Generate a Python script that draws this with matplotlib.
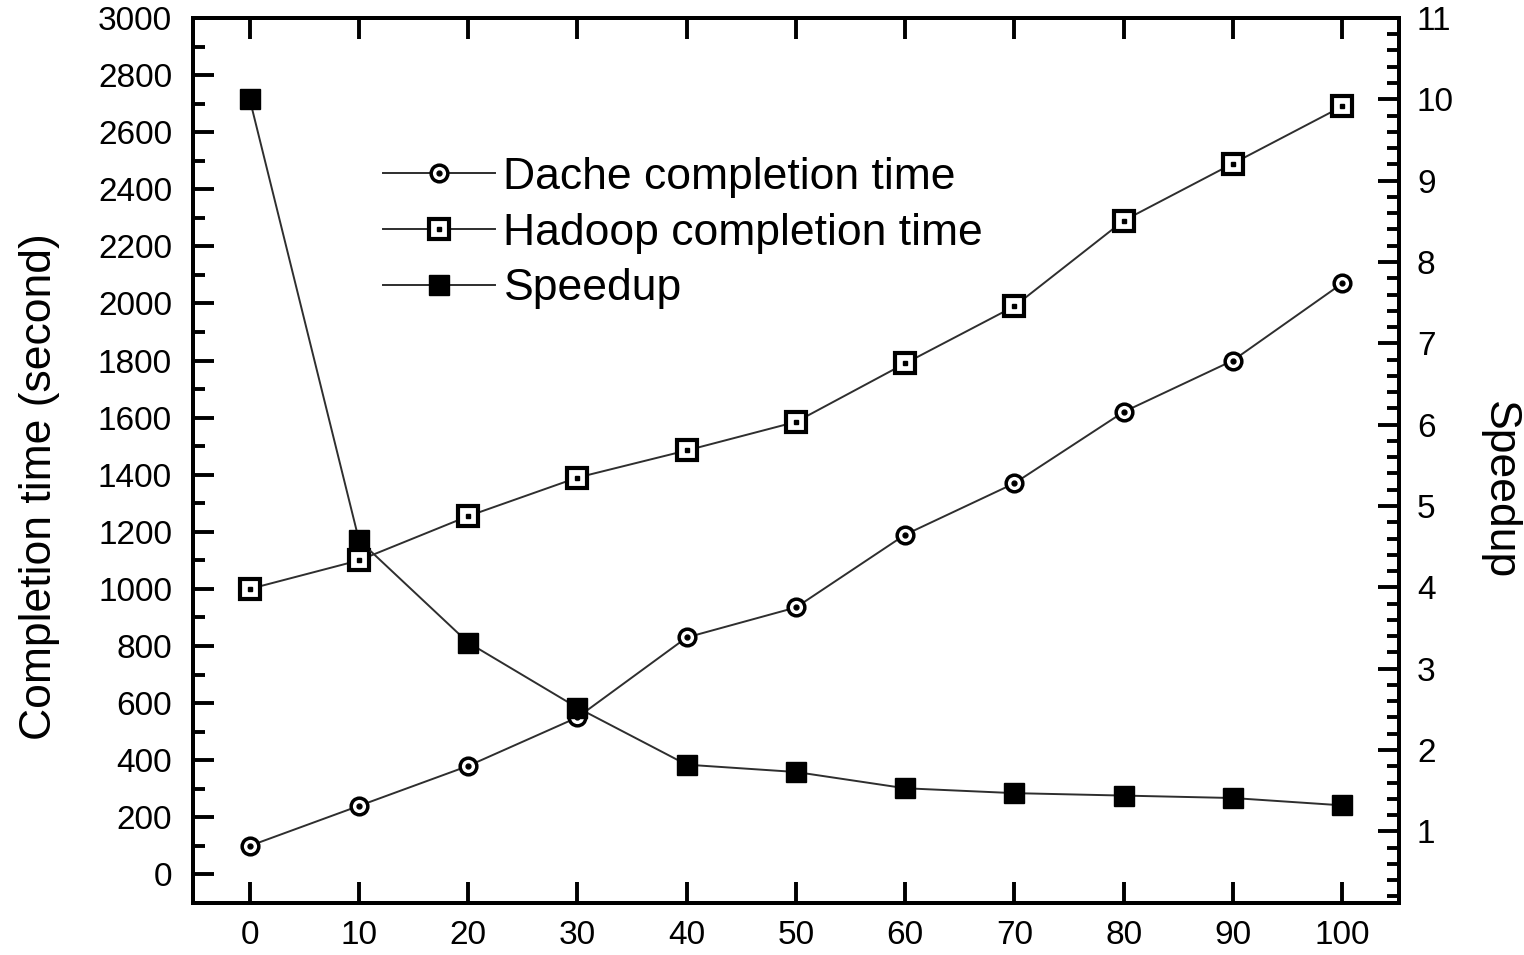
import matplotlib
matplotlib.use("Agg")
import matplotlib.pyplot as plt
from matplotlib.ticker import MultipleLocator
"""
    Dache vs Hadoop completion time and speedup
"""

x_values = [0, 10, 20, 30, 40, 50, 60, 70, 80, 90, 100]
dache_time = [100, 240, 380, 550, 830, 935, 1190, 1370, 1620, 1800, 2070]
hadoop_time = [1000, 1100, 1255, 1390, 1485, 1585, 1790, 1990, 2290, 2490, 2690]
speedup = [10.0, 4.58, 3.32, 2.52, 1.82, 1.73, 1.53, 1.47, 1.44, 1.41, 1.32]

labels = ["Dache completion time", "Hadoop completion time", "Speedup"]
x_ticks = [0, 10, 20, 30, 40, 50, 60, 70, 80, 90, 100]
left_ticks = list(range(0, 3001, 200))
right_ticks = list(range(1, 12))

plt.rcParams['font.family'] = ['Liberation Sans', 'DejaVu Sans']
LINE = "#2e2e2e"


def style_axis(axis):
    """
    刻度朝内, 粗线
    """
    axis.tick_params(which="major", direction="in", length=15, width=2.8, labelsize=24)
    axis.tick_params(which="minor", direction="in", length=8.5, width=2.8)
    for sp in axis.spines.values():
        sp.set_linewidth(2.8)


def draw_chart():
    fig = plt.figure(figsize=(15.24, 9.55), dpi=100)
    ax = fig.add_axes([0.1266, 0.0545, 0.7913, 0.9267])
    ax2 = ax.twinx()

    # completion time on the left axis
    h_line, = ax.plot(x_values, hadoop_time, color=LINE, lw=1.4, marker="s", ms=14,
                      mfc="white", mec="black", mew=3, zorder=3)
    h_dot, = ax.plot(x_values, hadoop_time, ls="none", marker="s", ms=3.5,
                     color="black", zorder=4)
    d_line, = ax.plot(x_values, dache_time, color=LINE, lw=1.4, marker="o", ms=12,
                      mfc="white", mec="black", mew=2.5, zorder=3)
    d_dot, = ax.plot(x_values, dache_time, ls="none", marker="o", ms=3.5,
                     color="black", zorder=4)

    # speedup on the right axis
    s_line, = ax2.plot(x_values, speedup, color=LINE, lw=1.4, marker="s", ms=15,
                       mfc="black", mec="black", mew=1, zorder=3)

    ax.set_xlim(-5.2, 105.2)
    ax.set_ylim(-100, 3000)
    ax2.set_ylim(0.12, 11)

    ax.set_xticks(x_ticks)
    ax.set_yticks(left_ticks)
    ax.yaxis.set_minor_locator(MultipleLocator(100))
    ax2.set_yticks(right_ticks)
    ax2.yaxis.set_minor_locator(MultipleLocator(0.2))

    style_axis(ax)
    style_axis(ax2)
    ax.tick_params(axis="x", top=True, pad=12)
    ax.tick_params(axis="y", pad=15)
    ax2.tick_params(axis="y", pad=13)

    fig.text(0.026, 0.49, "Completion time (second)", rotation=90, ha="center",
             va="center", fontsize=32)
    fig.text(0.984, 0.487, "Speedup", rotation=-90, ha="center", va="center",
             fontsize=32)

    ax.legend([(d_line, d_dot), (h_line, h_dot), s_line], labels,
              loc="upper left", bbox_to_anchor=(0.158, 0.843), frameon=False,
              fontsize=32, handlelength=2.5, handletextpad=0.2,
              labelspacing=0.33, borderpad=0, borderaxespad=0, numpoints=1)

    fig.savefig("out.png", dpi=100)


if __name__ == '__main__':
    draw_chart()
